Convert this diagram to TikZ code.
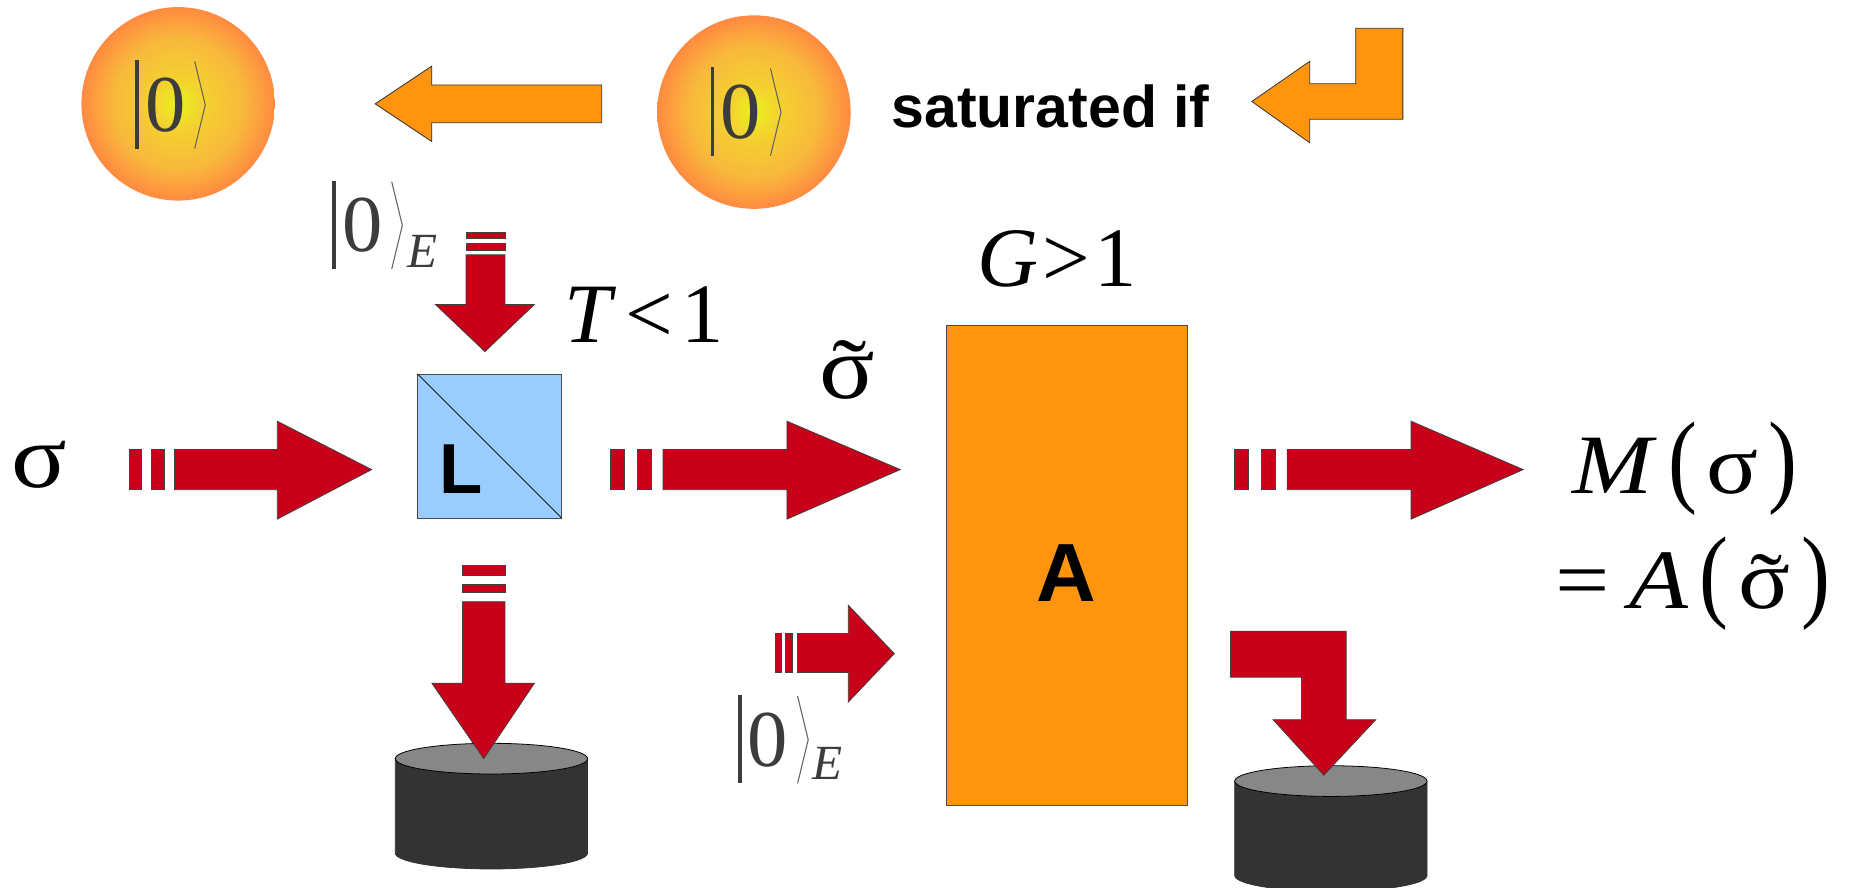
\documentclass[tikz,border=0pt]{standalone}
\usepackage{xcolor}
\usepackage{fontspec}
\usepackage{graphicx}
\setmainfont{Liberation Serif}
\setsansfont{Liberation Sans}
\definecolor{beamred}{HTML}{C9001A}
\definecolor{ampl}{HTML}{FF950E}
\definecolor{lossblue}{HTML}{99CCFF}
\definecolor{ketgray}{HTML}{3C3C3C}
\definecolor{glowa}{HTML}{E8F01E}
\definecolor{glowb}{HTML}{F4D030}
\definecolor{glowc}{HTML}{F8B83C}
\definecolor{glowd}{HTML}{FF8A40}
\pgfdeclareradialshading{atomglow}{\pgfpointorigin}{
  color(0bp)=(glowa);
  color(7bp)=(glowb);
  color(17bp)=(glowc);
  color(25bp)=(glowd);
  color(50bp)=(glowd)}
\newcommand{\tallparen}[1]{\scalebox{0.9}[1.22]{#1}}
\newcommand{\widetext}[1]{\scalebox{1.14}[1]{#1}}
\newcommand{\sigtilde}{\makebox[0pt][l]{\hspace{.13em}\raisebox{-.03em}{\char"02DC}}σ}
\begin{document}
\begin{tikzpicture}[
  x=0.6pt,y=-0.6pt,
  beam/.style={draw=black!75,fill=beamred,line width=0.4pt,line join=miter},
  pump/.style={draw=black!80,fill=ampl,line width=0.4pt,line join=miter},
  block/.style={draw=black!70,line width=0.4pt,inner sep=0pt,outer sep=0pt},
  atom/.style={shading=atomglow},
  maths/.style={inner sep=0pt,anchor=base,font=\fontsize{43}{43}\selectfont},
  sigma/.style={inner sep=0pt,anchor=base,font=\fontsize{46}{46}\selectfont},
  sub/.style={inner sep=0pt,anchor=base,text=ketgray,font=\fontsize{25}{25}\selectfont\itshape},
  ket/.pic={
    \draw[ketgray,line width=1.8pt] (0,0)--(0,75);
    \node[inner sep=0pt,text=ketgray,font=\fontsize{41}{41}\selectfont] (-zero) at (24,38) {0};
    \draw[ketgray!80,line width=0.55pt] (49,1)--(58,38)--(49,75);
  }
]
\useasboundingbox (0,0) rectangle (1568,752.6);
% pump atoms
\shade[atom] (151,88) circle (82);
\shade[atom] (639,95) circle (82);
\pic (atomleft) at (116,51) {ket};
\pic (atomright) at (604,57) {ket};
% orange arrows
\draw[pump] (318,88)--(366,56)--(366,72)--(510,72)--(510,104)--(366,104)--(366,120)--cycle;
\draw[pump] (1061,86)--(1110,52)--(1110,71)--(1149,71)--(1149,24)--(1189,24)--(1189,101)--(1110,101)--(1110,121)--cycle;
\node[inner sep=0pt,anchor=base,font=\fontsize{30}{30}\selectfont\sffamily\bfseries] (sat) at (890.5,108) {saturated if};
% vacuum input at the loss
\pic (vacloss) at (283,153) {ket};
\node[sub] (vacE) at (358.5,227) {E};
\foreach \y/\h in {197/5,206/6}
  \draw[beam] (395,\y) rectangle (428,\y+\h);
\draw[beam] (395,216)--(428,216)--(428,258)--(453,258)--(411,298)--(369,258)--(395,258)--cycle;
\node[maths] (trans) at (546,290) {\textit{T}\hspace{.1em}<\hspace{.1em}1};
% loss element
\node[block,fill=lossblue,minimum size=73.2pt] (loss) at (415,378) {};
\draw[black,line width=0.4pt] (loss.north west)--(loss.south east);
\node[inner sep=0pt,font=\fontsize{36}{36}\selectfont\sffamily\bfseries] (lossL) at (391,398) {L};
% signal path
\node[sigma] (sig) at (33,413) {\widetext{σ}};
\foreach \x/\w in {110/10,128/11,517/12,540/12,1046/12,1069/12}
  \draw[beam] (\x,381) rectangle (\x+\w,415);
\draw[beam] (148,381)--(235,381)--(235,357)--(315,398)--(235,440)--(235,415)--(148,415)--cycle;
\draw[beam] (562,381)--(667,381)--(667,357)--(763,398)--(667,440)--(667,415)--(562,415)--cycle;
\draw[beam] (1091,381)--(1196,381)--(1196,357)--(1291,398)--(1196,440)--(1196,415)--(1091,415)--cycle;
\node[sigma] (sigt) at (718,338) {\widetext{\sigtilde}};
% amplifier
\node[block,fill=ampl,minimum width=122.4pt,minimum height=244.2pt] (amp) at (904,479.5) {};
\node[inner sep=0pt,font=\fontsize{42}{42}\selectfont\sffamily\bfseries] (ampA) at (904,486) {A};
\node[maths] (gain) at (896,243) {\textit{G}\hspace{.05em}>\hspace{.05em}1};
% output
\node[maths] (mout) at (1428,418) {\widetext{\textit{M}\hspace{.12em}\tallparen{(}\hspace{.09em}σ\hspace{.1em}\tallparen{)}}};
\node[maths] (aout) at (1435,516) {\widetext{=\hspace{.2em}\textit{A}\hspace{.12em}\tallparen{(}\hspace{.1em}\sigtilde\hspace{.12em}\tallparen{)}}};
% detectors
\foreach \cx/\cy in {416.5/643,1128/662}{
  \draw[black!80,fill=black!80,line width=0.4pt] (\cx-81.5,\cy)--(\cx-81.5,\cy+80) arc[start angle=180,end angle=360,x radius=81.5,y radius=-13.5]--(\cx+81.5,\cy)--cycle;
  \draw[black,fill=black!47,line width=0.4pt] (\cx,\cy) ellipse (81.5 and 13);
}
% arrows to the detectors
\foreach \y/\h in {479/9,495/7}
  \draw[beam] (392,\y) rectangle (428,\y+\h);
\draw[beam] (392,510)--(428,510)--(428,579)--(453,579)--(410,643)--(366,579)--(392,579)--cycle;
\draw[beam] (1043,535)--(1141,535)--(1141,610)--(1166,610)--(1122,657)--(1079,610)--(1103,610)--(1103,574)--(1043,574)--cycle;
% vacuum input at the amplifier
\foreach \x/\w in {657/5,666/6}
  \draw[beam] (\x,537) rectangle (\x+\w,570);
\draw[beam] (676,537)--(719,537)--(719,513)--(758,554)--(719,595)--(719,570)--(676,570)--cycle;
\pic (vacamp) at (627,589) {ket};
\node[sub] (vacampE) at (701.5,661) {E};
\end{tikzpicture}
\end{document}
